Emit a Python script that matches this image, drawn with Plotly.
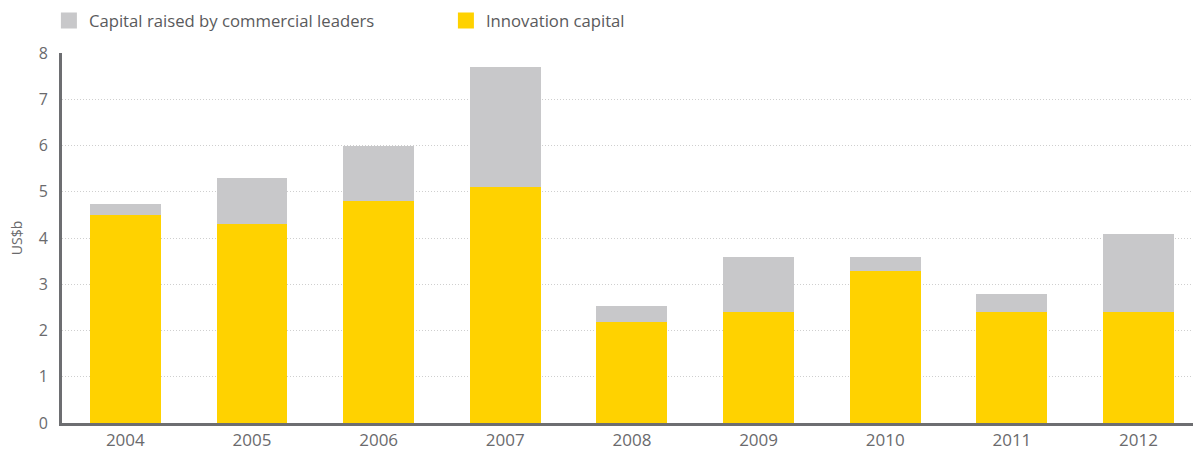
import plotly.graph_objects as go

years = ["2004", "2005", "2006", "2007", "2008", "2009", "2010", "2011", "2012"]
innovation = [4.50, 4.31, 4.79, 5.10, 2.19, 2.41, 3.29, 2.41, 2.41]
commercial = [0.23, 0.99, 1.21, 2.59, 0.34, 1.18, 0.30, 0.38, 1.68]

YELLOW = "#FFD200"
GRAY = "#C8C8CA"
TEXT = "#6a6a6d"
FONT = "Open Sans"
NAME_C = "Capital raised by commercial leaders"
NAME_I = "Innovation capital"

fig = go.Figure()
fig.add_trace(go.Bar(x=years, y=innovation, name=NAME_I, showlegend=False,
                     marker=dict(color=YELLOW, line=dict(width=0))))
fig.add_trace(go.Bar(x=years, y=commercial, name=NAME_C, showlegend=False,
                     marker=dict(color=GRAY, line=dict(width=0))))
# legend entries with larger square swatches
for name, color in [(NAME_C, GRAY), (NAME_I, YELLOW)]:
    fig.add_trace(go.Scatter(x=[None], y=[None], mode="markers", name=name,
                             hoverinfo="skip",
                             marker=dict(symbol="square", size=16, color=color,
                                         line=dict(width=0))))

fig.update_layout(
    barmode="stack",
    bargap=0.44,
    width=1193, height=456,
    margin=dict(l=62, r=0, t=53, b=33),
    plot_bgcolor="white", paper_bgcolor="white",
    font=dict(family=FONT, size=15, color=TEXT),
    showlegend=True,
    legend=dict(orientation="h", traceorder="normal",
                x=0.041, xref="container", xanchor="left",
                y=0.993, yref="container", yanchor="top",
                entrywidth=352, entrywidthmode="pixels",
                font=dict(family=FONT, size=16.7, color="#5a5a5c"),
                bgcolor="rgba(0,0,0,0)", itemclick=False),
    xaxis=dict(type="category", range=[-0.5, 8.43], showgrid=False,
               showline=True, linecolor="#6d6e71", linewidth=3,
               ticks="", tickfont=dict(size=17, color=TEXT)),
    yaxis=dict(range=[0, 8], dtick=1, showgrid=True, gridcolor="#cfcfcf",
               griddash="1px,2px", gridwidth=1, zeroline=False,
               showline=True, linecolor="#6d6e71", linewidth=3,
               ticks="", ticklabelstandoff=8,
               tickfont=dict(size=16, color=TEXT),
               title=dict(text="US$b", font=dict(size=14, color=TEXT), standoff=13)),
)

fig.write_html("out.html")
